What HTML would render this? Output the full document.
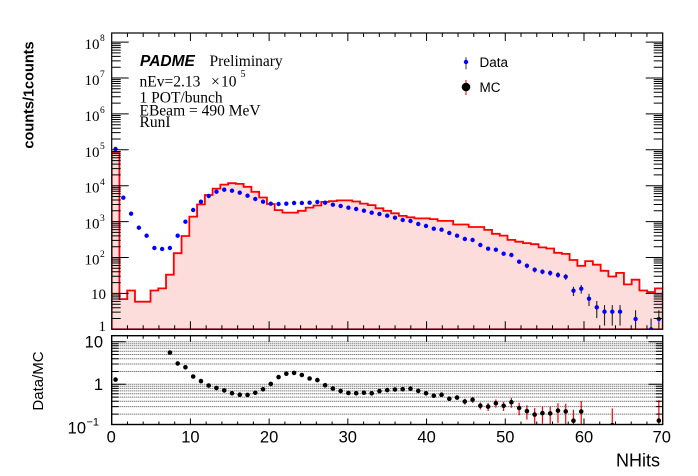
<!DOCTYPE html>
<html><head><meta charset="utf-8">
<style>
html,body{margin:0;padding:0;background:#fff;}
body{width:698px;height:476px;overflow:hidden;}
svg{display:block;}
.sans{font-family:"Liberation Sans",Arial,sans-serif;}
.serif{font-family:"Liberation Serif","Times New Roman",serif;}
</style></head>
<body>
<svg width="698" height="476" viewBox="0 0 698 476" xmlns="http://www.w3.org/2000/svg">
<defs>
<clipPath id="ctop"><rect x="111.7" y="33" width="551" height="296.3"/></clipPath>
<clipPath id="crat"><rect x="111.7" y="335.7" width="551" height="88.8"/></clipPath>
</defs>
<rect width="698" height="476" fill="#fff"/>

<g clip-path="url(#ctop)">
<path d="M111.7,329.3V153H119.46V299.1H127.22V290.5H134.98V301.7H150.51V290.5H158.27V288.4H166.03V274.7H173.79V253.2H181.55V236H189.31V216.6H197.07V204.4H204.83V195H212.59V188.6H220.35V184.6H228.12V183.2H235.88V183.9H243.64V186.8H251.4V191.8H259.16V197.5H266.92V204H274.68V210.1H282.44V212.6H297.96V210.8H305.73V207.6H313.49V205.5H321.25V201.9H329.01V201.1H336.77V200.4H352.29V201.5H360.05V203.6H367.81V205.1H375.57V208.3H383.34V210.8H391.1V213.3H398.86V215.9H406.62V217.3H414.38V218.4H429.9V219.1H437.66V220.9H453.18V224.5H468.71V227H484.23V229.9H491.99V233.8H499.75V235.6H507.51V239.9H515.27V241.7H523.03V243.1H530.79V244.2H538.56V247.4H546.32V248.5H554.08V252.8H561.84V253.9H569.6V260H577.36V265.8H585.12V261.1H592.88V264.7H600.64V270.8H608.4V276.5H616.17V272.9H623.93V284.4H631.69V279.7H639.45V290.5H647.21V292H654.97V288.4H662.73V329.3Z" fill="#fddcdc" stroke="#ff0000" stroke-width="1.8"/>
<path d="M519.15 259.9V263.6M526.91 263.9V268.2M534.67 267.8V272.5M542.44 269.4V274.3M550.2 270.6V275.8M557.96 272.3V277.7M565.72 274.1V279.9M573.48 286.7V296M581.24 285V293.6M589 293.7V306M596.76 301V318.1M604.52 305.1V325.6M612.28 305.1V325.6M620.05 305.1V325.6M635.57 310.2V329.3M651.09 318.5V329.3M658.85 310.2V329.3" stroke="#222" stroke-width="1.1" fill="none"/>
<path stroke="#0000ff" stroke-width="4.4" stroke-linecap="round" fill="none" d="M115.58 149h0M123.34 197.7h0M131.1 213.7h0M138.86 227.7h0M146.62 235.7h0M154.39 248h0M162.15 249h0M169.91 248h0M177.67 235.7h0M185.43 221.7h0M193.19 210h0M200.95 201.7h0M208.71 196h0M216.47 191.7h0M224.23 189.7h0M232 190.7h0M239.76 192.7h0M247.52 195.7h0M255.28 199h0M263.04 201.7h0M270.8 203.7h0M278.56 204h0M286.32 203.7h0M294.08 203h0M301.84 203h0M309.61 202.7h0M317.37 202h0M325.13 202.7h0M332.89 204.7h0M340.65 206h0M348.41 207.7h0M356.17 209h0M363.93 210.7h0M371.69 212.7h0M379.45 214h0M387.22 215.7h0M394.98 217.7h0M402.74 220h0M410.5 221h0M418.26 224h0M426.02 226h0M433.78 228.7h0M441.54 229.7h0M449.3 233h0M457.06 235.7h0M464.83 239h0M472.59 240h0M480.35 245h0M488.11 248.7h0M495.87 249.7h0M503.63 253.7h0M511.39 255h0M519.15 261.7h0M526.91 265.7h0M534.67 269.7h0M542.44 271.7h0M550.2 273h0M557.96 275h0M565.72 276.7h0M573.48 290.7h0M581.24 288.7h0M589 298.7h0M596.76 307.3h0M604.52 311.7h0M612.28 311.7h0M620.05 311.7h0M635.57 319h0M651.09 329.3h0M658.85 319h0"/>
</g>
<rect x="111.7" y="33" width="551" height="296.3" fill="none" stroke="#000" stroke-width="1.2"/>

<g id="xtTop" stroke="#000" stroke-width="1" fill="none">
<path d="M190.41 329.3v-8M269.13 329.3v-8M347.84 329.3v-8M426.56 329.3v-8M505.27 329.3v-8M583.99 329.3v-8"/>
<path d="M127.44 329.3v-4M143.18 329.3v-4M158.93 329.3v-4M174.67 329.3v-4M206.15 329.3v-4M221.9 329.3v-4M237.64 329.3v-4M253.38 329.3v-4M284.87 329.3v-4M300.61 329.3v-4M316.35 329.3v-4M332.1 329.3v-4M363.58 329.3v-4M379.33 329.3v-4M395.07 329.3v-4M410.81 329.3v-4M442.3 329.3v-4M458.04 329.3v-4M473.78 329.3v-4M489.53 329.3v-4M521.01 329.3v-4M536.76 329.3v-4M552.5 329.3v-4M568.24 329.3v-4M599.73 329.3v-4M615.47 329.3v-4M631.21 329.3v-4M646.96 329.3v-4"/>
</g>
<use href="#xtTop" transform="translate(0,362.3) scale(1,-1)"/>

<g id="ytTop" stroke="#000" stroke-width="1" fill="none">
<path d="M111.7 293.4h17M111.7 257.5h17M111.7 221.6h17M111.7 185.7h17M111.7 149.8h17M111.7 113.9h17M111.7 78h17M111.7 42.1h17"/>
<g id="dec"><path d="M111.7 318.49h9M111.7 312.17h9M111.7 307.69h9M111.7 304.21h9M111.7 301.37h9M111.7 298.96h9M111.7 296.88h9M111.7 295.04h9"/></g>
<use href="#dec" transform="translate(0,-35.9)"/>
<use href="#dec" transform="translate(0,-71.8)"/>
<use href="#dec" transform="translate(0,-107.7)"/>
<use href="#dec" transform="translate(0,-143.6)"/>
<use href="#dec" transform="translate(0,-179.5)"/>
<use href="#dec" transform="translate(0,-215.4)"/>
<use href="#dec" transform="translate(0,-251.3)"/>
</g>
<use href="#ytTop" transform="translate(774.4,0) scale(-1,1)"/>

<g class="serif" font-size="15" fill="#000" text-anchor="end">
<text x="99.5" y="49.1">10</text><text x="99.5" y="85">10</text><text x="99.5" y="120.9">10</text><text x="99.5" y="156.8">10</text><text x="99.5" y="192.7">10</text><text x="99.5" y="228.6">10</text><text x="99.5" y="264.5">10</text><text x="106" y="299">10</text><text x="106" y="331">1</text>
</g>
<g class="serif" font-size="9.5" fill="#000">
<text x="100" y="41">8</text><text x="100" y="77">7</text><text x="100" y="113">6</text><text x="100" y="149">5</text><text x="100" y="185">4</text><text x="100" y="221">3</text><text x="100" y="257">2</text>
</g>
<text class="sans" font-size="14.5" font-weight="bold" text-anchor="middle" transform="translate(33.5,95) rotate(-90)">counts/1counts</text>

<text class="sans" x="140" y="66" font-size="15.5" font-weight="bold" font-style="italic">PADME</text>
<text class="serif" x="209.5" y="66" font-size="15.5">Preliminary</text>
<text class="serif" x="139.5" y="86.5" font-size="15.5">nEv=2.13</text>
<text class="serif" x="211" y="86.5" font-size="15.5">×</text>
<text class="serif" x="221" y="86.5" font-size="15.5">10</text>
<text class="serif" x="240.5" y="77" font-size="10">5</text>
<text class="serif" x="139.5" y="102.7" font-size="15.5">1 POT/bunch</text>
<text class="serif" x="139.5" y="115.3" font-size="15.5">EBeam = 490 MeV</text>
<text class="serif" x="139.5" y="127" font-size="15.5">RunI</text>

<line x1="466" y1="57.3" x2="466" y2="69.3" stroke="#333" stroke-width="1"/>
<circle cx="466" cy="62" r="2.2" fill="#0000ff"/>
<text class="sans" x="479.5" y="67" font-size="13.5">Data</text>
<line x1="466" y1="80" x2="466" y2="95" stroke="#ff2020" stroke-width="1.2"/>
<circle cx="466" cy="87" r="4.3" fill="#000"/>
<text class="sans" x="479.5" y="92" font-size="13.5">MC</text>

<g clip-path="url(#crat)">
<path d="M111.7 414.1H662.7M111.7 406.6H662.7M111.7 401.3H662.7M111.7 397.1H662.7M111.7 393.8H662.7M111.7 390.9H662.7M111.7 388.4H662.7M111.7 386.3H662.7M111.7 384.3H662.7M111.7 371.5H662.7M111.7 364H662.7M111.7 358.7H662.7M111.7 354.5H662.7M111.7 351.2H662.7M111.7 348.3H662.7M111.7 345.8H662.7M111.7 343.7H662.7M111.7 341.7H662.7" stroke="#444" stroke-width="1" stroke-dasharray="1 1" fill="none"/>
<path d="M464.83 398.8V404.6M472.59 397V402.9M480.35 402.5V409.5M488.11 403V411M495.87 399.5V407.8M503.63 401.7V411M511.39 397.9V407.7M519.15 402.8V415.2M526.91 405.3V419.6M534.67 408.1V424.5M542.44 406.4V423.8M550.2 406.4V424.5M557.96 403.3V422.9M565.72 403.7V424.5M573.48 409.7V424.5M581.24 401V424.5M612.28 408.4V424.5M658.85 400.4V424.5" stroke="#ff0000" stroke-width="1.2" fill="none"/>
<path stroke="#000" stroke-width="4.6" stroke-linecap="round" fill="none" d="M115.58 379.6h0M169.91 352.6h0M177.67 363.5h0M185.43 367.3h0M193.19 376.5h0M200.95 381.1h0M208.71 385.5h0M216.47 388h0M224.23 390.4h0M232 393.2h0M239.76 394.7h0M247.52 394.9h0M255.28 392.8h0M263.04 389.3h0M270.8 383.9h0M278.56 377.1h0M286.32 373.7h0M294.08 372.9h0M301.84 375h0M309.61 378.5h0M317.37 380.1h0M325.13 385.2h0M332.89 388.6h0M340.65 391h0M348.41 393h0M356.17 393.2h0M363.93 392.7h0M371.69 393.3h0M379.45 391.1h0M387.22 390.1h0M394.98 389.5h0M402.74 389.2h0M410.5 388.7h0M418.26 390.9h0M426.02 393.3h0M433.78 395.7h0M441.54 394.7h0M449.3 398.7h0M457.06 397.6h0M464.83 401.5h0M472.59 399.7h0M480.35 405.7h0M488.11 406.6h0M495.87 403.2h0M503.63 405.8h0M511.39 402.2h0M519.15 408h0M526.91 411.1h0M534.67 414.6h0M542.44 413.1h0M550.2 413.4h0M557.96 410.6h0M565.72 411.4h0M573.48 420.7h0M581.24 411.5h0M612.28 425.2h0M658.85 420.6h0"/>
</g>
<rect x="111.7" y="335.7" width="551" height="88.8" fill="none" stroke="#000" stroke-width="1.4"/>

<g id="xtRat" stroke="#000" stroke-width="1" fill="none">
<path d="M190.41 424.5v-6M269.13 424.5v-6M347.84 424.5v-6M426.56 424.5v-6M505.27 424.5v-6M583.99 424.5v-6"/>
<path d="M127.44 424.5v-3M143.18 424.5v-3M158.93 424.5v-3M174.67 424.5v-3M206.15 424.5v-3M221.9 424.5v-3M237.64 424.5v-3M253.38 424.5v-3M284.87 424.5v-3M300.61 424.5v-3M316.35 424.5v-3M332.1 424.5v-3M363.58 424.5v-3M379.33 424.5v-3M395.07 424.5v-3M410.81 424.5v-3M442.3 424.5v-3M458.04 424.5v-3M473.78 424.5v-3M489.53 424.5v-3M521.01 424.5v-3M536.76 424.5v-3M552.5 424.5v-3M568.24 424.5v-3M599.73 424.5v-3M615.47 424.5v-3M631.21 424.5v-3M646.96 424.5v-3"/>
</g>
<use href="#xtRat" transform="translate(0,760.2) scale(1,-1)"/>

<g id="ytRat" stroke="#000" stroke-width="1" fill="none">
<path d="M111.7 384.3h14M111.7 341.7h14"/>
<path d="M111.7 414.1h7M111.7 406.6h7M111.7 401.3h7M111.7 397.1h7M111.7 393.8h7M111.7 390.9h7M111.7 388.4h7M111.7 386.3h7M111.7 371.5h7M111.7 364h7M111.7 358.7h7M111.7 354.5h7M111.7 351.2h7M111.7 348.3h7M111.7 345.8h7M111.7 343.7h7"/>
</g>
<use href="#ytRat" transform="translate(774.4,0) scale(-1,1)"/>

<g class="sans" font-size="16.5" fill="#000" text-anchor="end">
<text x="103" y="347.5">10</text><text x="103" y="390.2">1</text><text x="86" y="433.5">10</text>
</g>
<text class="sans" x="86.5" y="425.5" font-size="11">−1</text>
<text class="sans" font-size="15" text-anchor="middle" transform="translate(43,381) rotate(-90)">Data/MC</text>

<g class="sans" font-size="16.5" fill="#000" text-anchor="middle">
<text x="111.2" y="442.7">0</text><text x="190.4" y="442.7">10</text><text x="269.1" y="442.7">20</text><text x="347.8" y="442.7">30</text><text x="426.6" y="442.7">40</text><text x="505.3" y="442.7">50</text><text x="584" y="442.7">60</text><text x="661.7" y="442.7">70</text>
</g>
<text class="sans" x="660" y="466.5" font-size="18" text-anchor="end">NHits</text>
</svg>
</body></html>
